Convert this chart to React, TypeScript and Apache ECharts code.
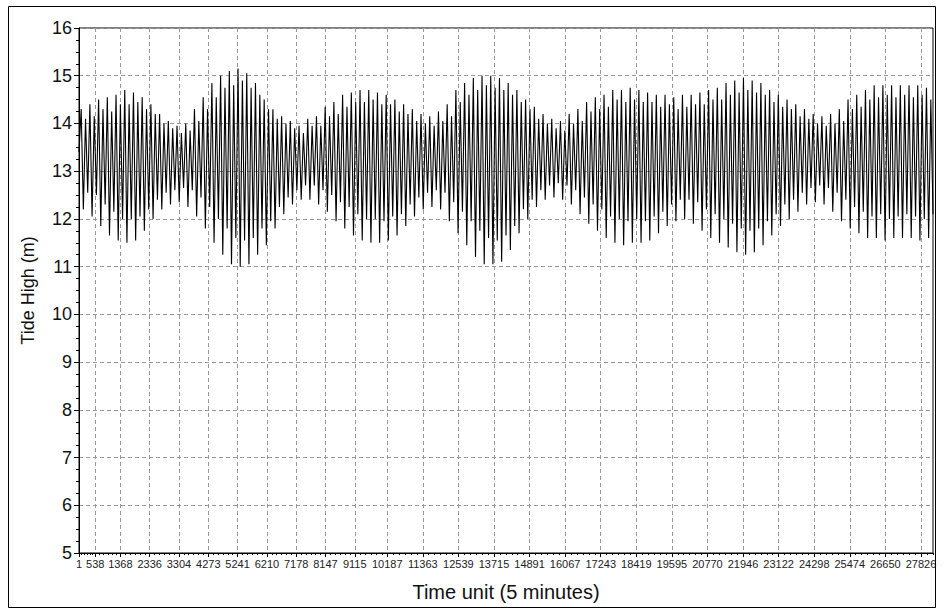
import { useEffect, useRef } from "react";
import * as echarts from "echarts";

// Tick labels of the time axis (sample index, 5-minute steps)
const X_TICK_VALUES = [
  1, 538, 1368, 2336, 3304, 4273, 5241, 6210, 7178, 8147, 9115, 10187, 11363,
  12539, 13715, 14891, 16067, 17243, 18419, 19595, 20770, 21946, 23122, 24298,
  25474, 26650, 27826,
];
const X_MIN = 1;
const X_MAX = 28224;
const MINOR_PER_MAJOR = 6;

const START_LEVEL = 13.4;

// Per-day tide extremes (m): higher high, lower low, lower high, higher low
const HIGHER_HIGH = [
  14.3, 14.4, 14.5, 14.55, 14.6, 14.7, 14.65, 14.55, 14.4, 14.2,
  14.05, 13.95, 14.0, 14.3, 14.55, 14.85, 15.0, 15.1, 15.15, 15.05,
  14.85, 14.5, 14.3, 14.15, 14.05, 13.95, 14.1, 14.15, 14.35, 14.45,
  14.6, 14.65, 14.7, 14.7, 14.65, 14.6, 14.5, 14.4, 14.3, 14.2,
  14.15, 14.25, 14.4, 14.7, 14.85, 14.95, 15.0, 15.0, 14.95, 14.85,
  14.7, 14.5, 14.35, 14.2, 14.1, 14.05, 14.2, 14.3, 14.45, 14.55,
  14.6, 14.7, 14.7, 14.75, 14.7, 14.65, 14.6, 14.6, 14.55, 14.6,
  14.6, 14.65, 14.7, 14.75, 14.85, 14.9, 14.95, 14.9, 14.85, 14.7,
  14.6, 14.5, 14.4, 14.3, 14.2, 14.15, 14.2, 14.3, 14.5, 14.6,
  14.7, 14.8, 14.8, 14.8, 14.8, 14.8, 14.8, 14.75,
];
const LOWER_LOW = [
  12.2, 12.05, 11.85, 11.65, 11.55, 11.5, 11.55, 11.75, 12.0, 12.2,
  12.3, 12.35, 12.25, 12.05, 11.8, 11.5, 11.25, 11.05, 11.0, 11.05,
  11.25, 11.45, 11.8, 12.1, 12.3, 12.4, 12.4, 12.3, 12.15, 11.95,
  11.8, 11.65, 11.55, 11.5, 11.5, 11.55, 11.65, 11.85, 12.05, 12.2,
  12.25, 12.2, 11.95, 11.7, 11.45, 11.2, 11.05, 11.05, 11.1, 11.35,
  11.7, 12.0, 12.25, 12.4, 12.45, 12.4, 12.3, 12.1, 11.9, 11.75,
  11.6, 11.5, 11.45, 11.5, 11.5, 11.55, 11.7, 11.85, 11.95, 12.0,
  11.9, 11.75, 11.6, 11.5, 11.4, 11.3, 11.25, 11.3, 11.45, 11.65,
  11.85, 12.0, 12.15, 12.3, 12.35, 12.3, 12.15, 11.95, 11.8, 11.7,
  11.6, 11.6, 11.55, 11.6, 11.6, 11.6, 11.55, 11.6,
];
const LOWER_HIGH = [
  14.1, 14.15, 14.3, 14.25, 14.4, 14.4, 14.45, 14.3, 14.2, 14.0,
  13.9, 13.8, 13.85, 14.05, 14.3, 14.55, 14.75, 14.8, 14.9, 14.75,
  14.6, 14.3, 14.1, 14.0, 13.9, 13.8, 13.95, 13.95, 14.15, 14.2,
  14.35, 14.45, 14.45, 14.5, 14.4, 14.4, 14.25, 14.2, 14.05, 14.0,
  13.95, 14.05, 14.15, 14.45, 14.6, 14.7, 14.8, 14.75, 14.7, 14.6,
  14.45, 14.3, 14.1, 14.0, 13.9, 13.85, 14.0, 14.05, 14.25, 14.3,
  14.35, 14.5, 14.45, 14.5, 14.45, 14.45, 14.35, 14.4, 14.3, 14.35,
  14.4, 14.4, 14.5, 14.5, 14.6, 14.65, 14.7, 14.65, 14.6, 14.45,
  14.35, 14.3, 14.15, 14.1, 14.0, 13.95, 14.0, 14.05, 14.3, 14.35,
  14.5, 14.55, 14.6, 14.55, 14.6, 14.55, 14.6, 14.5,
];
const HIGHER_LOW = [
  12.55, 12.5, 12.3, 12.15, 12.0, 12.0, 12.05, 12.2, 12.4, 12.55,
  12.6, 12.65, 12.6, 12.45, 12.25, 12.0, 11.8, 11.6, 11.55, 11.6,
  11.8, 11.95, 12.25, 12.45, 12.6, 12.7, 12.7, 12.6, 12.5, 12.35,
  12.25, 12.1, 12.0, 12.0, 11.95, 12.05, 12.1, 12.3, 12.45, 12.55,
  12.6, 12.55, 12.35, 12.15, 11.95, 11.75, 11.6, 11.55, 11.65, 11.85,
  12.2, 12.4, 12.6, 12.7, 12.75, 12.7, 12.6, 12.45, 12.3, 12.2,
  12.05, 12.0, 11.95, 12.0, 11.95, 12.05, 12.15, 12.3, 12.4, 12.4,
  12.35, 12.2, 12.1, 12.0, 11.9, 11.8, 11.75, 11.8, 11.95, 12.1,
  12.3, 12.4, 12.55, 12.65, 12.7, 12.65, 12.55, 12.4, 12.25, 12.15,
  12.05, 12.1, 12.0, 12.05, 12.1, 12.05, 12.0, 12.1,
];

const FONT = "'Liberation Sans', Arial, sans-serif";

export default function App() {
  const ref = useRef<HTMLDivElement>(null);

  useEffect(() => {
    if (!ref.current) return;
    const chart = echarts.init(ref.current, null, { renderer: "svg" });

    const levels: number[] = [START_LEVEL];
    HIGHER_HIGH.forEach((hh, d) => {
      levels.push(hh, LOWER_LOW[d], LOWER_HIGH[d], HIGHER_LOW[d]);
    });
    const steps = levels.map((_, i) => String(i));

    // minor tick positions between the labelled ticks
    const minorTicks: number[] = [];
    for (let i = 0; i < X_TICK_VALUES.length - 1; i++) {
      const a = X_TICK_VALUES[i];
      const b = X_TICK_VALUES[i + 1];
      for (let k = 1; k < MINOR_PER_MAJOR; k++) {
        minorTicks.push(a + ((b - a) * k) / MINOR_PER_MAJOR);
      }
    }
    const last = X_TICK_VALUES[X_TICK_VALUES.length - 1];
    const lastStep = (last - X_TICK_VALUES[X_TICK_VALUES.length - 2]) / MINOR_PER_MAJOR;
    for (let v = last + lastStep; v < X_MAX; v += lastStep) minorTicks.push(v);

    chart.setOption({
      animation: false,
      backgroundColor: "#fff",
      textStyle: { fontFamily: FONT },
      graphic: [
        {
          type: "rect",
          shape: { x: 8.5, y: 6.5, width: 927, height: 601 },
          style: { fill: "none", stroke: "#000", lineWidth: 1 },
          silent: true,
          z: 100,
        },
      ],
      grid: {
        left: 79,
        right: 11,
        top: 28,
        bottom: 62,
        show: true,
        borderColor: "#000",
        borderWidth: 1,
        backgroundColor: "#fff",
        containLabel: false,
        outerBoundsMode: "none",
      },
      xAxis: [
        {
          type: "value",
          min: X_MIN,
          max: X_MAX,
          position: "bottom",
          name: "Time unit (5 minutes)",
          nameLocation: "middle",
          nameGap: 29,
          nameTextStyle: { fontSize: 20, color: "#111", fontFamily: FONT },
          axisLine: { show: true, lineStyle: { color: "#000", width: 1 } },
          axisTick: {
            show: true,
            customValues: X_TICK_VALUES,
            length: 4,
            lineStyle: { color: "#000" },
          },
          axisLabel: {
            customValues: X_TICK_VALUES,
            formatter: (v: number) => String(Math.round(v)),
            fontSize: 11,
            color: "#222",
            margin: 5,
            hideOverlap: false,
            fontFamily: FONT,
          },
          splitLine: {
            show: true,
            lineStyle: { color: "#999", type: [4, 3], width: 1 },
          },
        },
        {
          type: "category",
          data: steps,
          boundaryGap: false,
          show: false,
        },
        {
          type: "value",
          min: X_MIN,
          max: X_MAX,
          position: "bottom",
          axisLine: { show: false },
          axisTick: {
            show: true,
            customValues: minorTicks,
            length: 2,
            lineStyle: { color: "#000" },
          },
          axisLabel: { show: false },
          splitLine: { show: false },
        },
      ],
      yAxis: {
        type: "value",
        min: 5,
        max: 16,
        interval: 1,
        name: "Tide High (m)",
        nameLocation: "middle",
        nameGap: 42,
        nameTextStyle: { fontSize: 18, color: "#111", fontFamily: FONT },
        axisLine: { show: true, lineStyle: { color: "#000", width: 1 } },
        axisTick: { show: true, length: 5, lineStyle: { color: "#000" } },
        minorTick: { show: true, splitNumber: 4, length: 3, lineStyle: { color: "#000" } },
        axisLabel: { fontSize: 18, color: "#111", margin: 7, fontFamily: FONT },
        splitLine: {
          show: true,
          lineStyle: { color: "#999", type: [4, 3], width: 1 },
        },
      },
      series: [
        {
          type: "line",
          xAxisIndex: 1,
          yAxisIndex: 0,
          data: levels,
          showSymbol: false,
          symbol: "none",
          lineStyle: { color: "#000", width: 1.1 },
          z: 5,
        },
      ],
    });

    return () => chart.dispose();
  }, []);

  return (
    <div
      ref={ref}
      style={{ position: "absolute", left: 0, top: 0, width: 944, height: 615, background: "#fff" }}
    />
  );
}
